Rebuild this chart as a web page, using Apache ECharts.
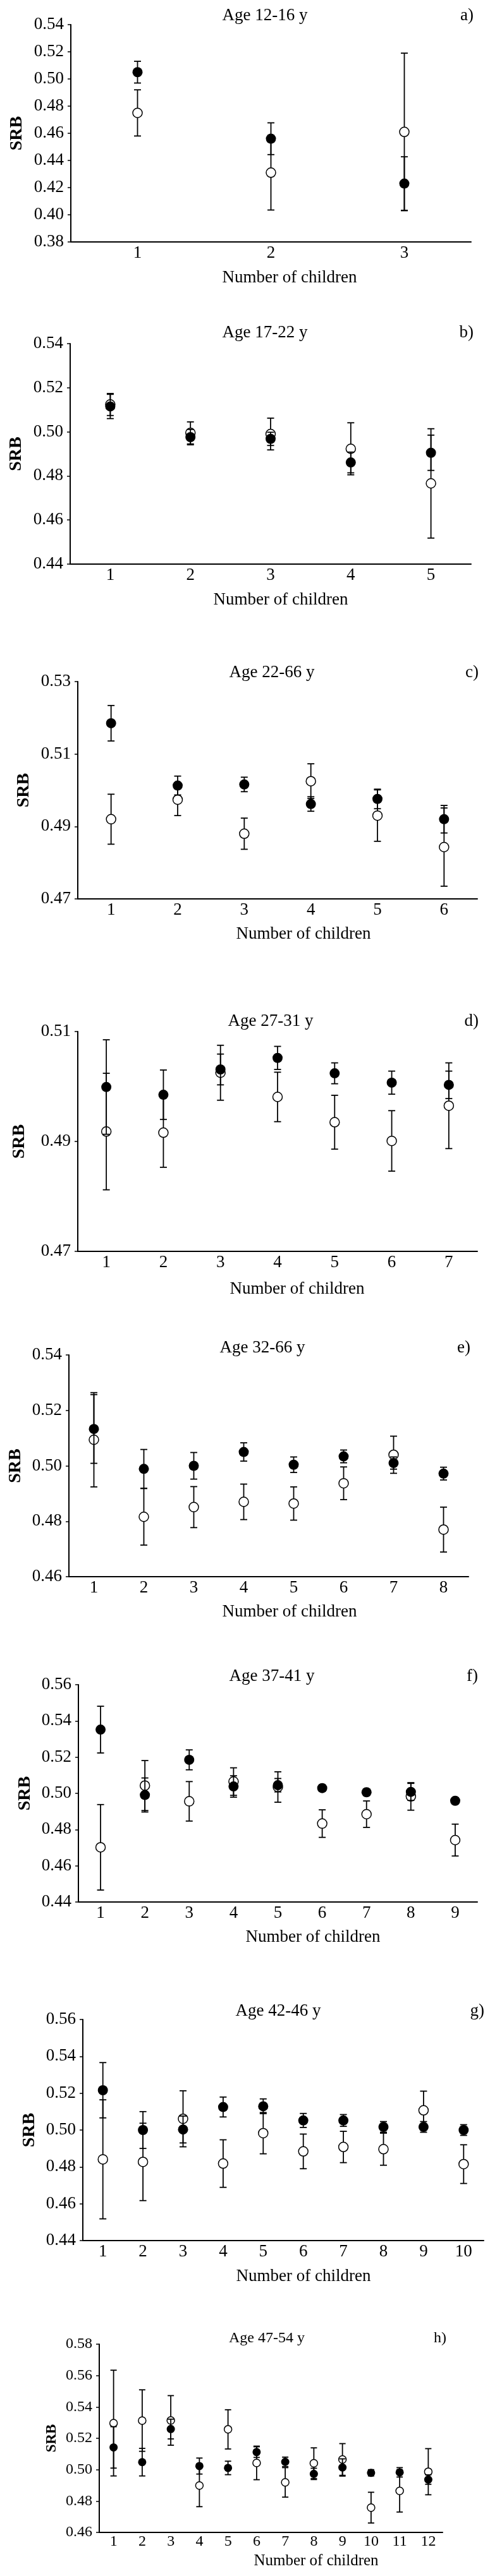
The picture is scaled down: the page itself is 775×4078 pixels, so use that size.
<!DOCTYPE html>
<html>
<head>
<meta charset="utf-8">
<script src="https://cdn.jsdelivr.net/npm/echarts@6/dist/echarts.min.js"></script>
<style>
  html, body { margin: 0; padding: 0; background: #fff; }
  #chart { width: 775px; height: 4078px; }
</style>
</head>
<body>
<div id="chart"></div>
<script>
const ages = ['Age 12-16 y', 'Age 17-22 y', 'Age 22-66 y', 'Age 27-31 y', 'Age 32-66 y', 'Age 37-41 y', 'Age 42-46 y', 'Age 47-54 y']
const letters = ['a)', 'b)', 'c)', 'd)', 'e)', 'f)', 'g)', 'h)']

// a) 12-16 y
const childrenA = ['1', '2', '3']
const ticksA = [0.38, 0.40, 0.42, 0.44, 0.46, 0.48, 0.50, 0.52, 0.54]
const filledA = [0.505, 0.456, 0.423]
const filledErrA = [0.008, 0.0117, 0.0197]
const openA = [0.475, 0.431, 0.461]
const openErrA = [0.017, 0.0275, 0.058]

// b) 17-22 y
const childrenB = ['1', '2', '3', '4', '5']
const ticksB = [0.44, 0.46, 0.48, 0.50, 0.52, 0.54]
const filledB = [0.5115, 0.4976, 0.4968, 0.4861, 0.4905]
const filledErrB = [0.0055, 0.0035, 0.003, 0.0047, 0.008]
const openB = [0.5124, 0.4995, 0.499, 0.4923, 0.4766]
const openErrB = [0.005, 0.005, 0.0072, 0.0118, 0.0248]

// c) 22-66 y
const childrenC = ['1', '2', '3', '4', '5', '6']
const ticksC = [0.47, 0.49, 0.51, 0.53]
const filledC = [0.5185, 0.5013, 0.5016, 0.4962, 0.4976, 0.492]
const filledErrC = [0.0049, 0.0026, 0.002, 0.002, 0.0027, 0.0038]
const openC = [0.492, 0.4974, 0.488, 0.5025, 0.493, 0.4843]
const openErrC = [0.0069, 0.0044, 0.0043, 0.0048, 0.0071, 0.0108]

// d) 27-31 y
const childrenD = ['1', '2', '3', '4', '5', '6', '7']
const ticksD = [0.47, 0.49, 0.51]
const filledD = [0.4999, 0.4985, 0.5031, 0.5052, 0.5024, 0.5007, 0.5003]
const filledErrD = [0.0086, 0.0045, 0.0028, 0.0021, 0.0019, 0.0021, 0.0025]
const openD = [0.4918, 0.4916, 0.5025, 0.4981, 0.4935, 0.4901, 0.4965]
const openErrD = [0.0106, 0.0063, 0.005, 0.0045, 0.0049, 0.0055, 0.0078]

// e) 32-66 y
const childrenE = ['1', '2', '3', '4', '5', '6', '7', '8']
const ticksE = [0.46, 0.48, 0.50, 0.52, 0.54]
const filledE = [0.5133, 0.4989, 0.5, 0.505, 0.5004, 0.5034, 0.501, 0.4972]
const filledErrE = [0.0124, 0.007, 0.0048, 0.0033, 0.0028, 0.0023, 0.0022, 0.0023]
const openE = [0.5094, 0.4816, 0.4851, 0.487, 0.4864, 0.4937, 0.504, 0.477]
const openErrE = [0.017, 0.0102, 0.0074, 0.0064, 0.006, 0.0059, 0.0067, 0.0081]

// f) 37-41 y
const childrenF = ['1', '2', '3', '4', '5', '6', '7', '8', '9']
const ticksF = [0.44, 0.46, 0.48, 0.50, 0.52, 0.54, 0.56]
const filledF = [0.5352, 0.4991, 0.5185, 0.5038, 0.5045, 0.5029, 0.5006, 0.5008, 0.4959]
const filledErrF = [0.0129, 0.0094, 0.0055, 0.0059, 0.0037, 0.0018, 0.0018, 0.0047, 0.0015]
const openF = [0.4702, 0.5043, 0.4956, 0.5065, 0.5035, 0.4833, 0.4885, 0.4983, 0.4742]
const openErrF = [0.0236, 0.0138, 0.0109, 0.0076, 0.0084, 0.0076, 0.0073, 0.0076, 0.0088]

// g) 42-46 y
const childrenG = ['1', '2', '3', '4', '5', '6', '7', '8', '9', '10']
const ticksG = [0.44, 0.46, 0.48, 0.50, 0.52, 0.54, 0.56]
const filledG = [0.5216, 0.5, 0.5003, 0.5125, 0.5129, 0.5052, 0.5052, 0.5017, 0.5017, 0.5]
const filledErrG = [0.015, 0.01, 0.0073, 0.0054, 0.004, 0.0038, 0.0032, 0.0029, 0.0029, 0.0029]
const openG = [0.4841, 0.4827, 0.5061, 0.4818, 0.4983, 0.4884, 0.4908, 0.4896, 0.5107, 0.4815]
const openErrG = [0.0323, 0.021, 0.0152, 0.0129, 0.0112, 0.0094, 0.0085, 0.0087, 0.0104, 0.0105]

// h) 47-54 y
const childrenH = ['1', '2', '3', '4', '5', '6', '7', '8', '9', '10', '11', '12']
const ticksH = [0.46, 0.48, 0.50, 0.52, 0.54, 0.56, 0.58]
const filledH = [0.5142, 0.5048, 0.5259, 0.5023, 0.5011, 0.5112, 0.505, 0.4973, 0.5014, 0.498, 0.4983, 0.4937]
const filledErrH = [0.0132, 0.0088, 0.0063, 0.0051, 0.0043, 0.0034, 0.003, 0.0036, 0.0055, 0.002, 0.003, 0.003]
const openH = [0.5297, 0.5313, 0.5314, 0.4899, 0.5257, 0.5043, 0.4919, 0.5041, 0.5065, 0.4758, 0.4865, 0.4987]
const openErrH = [0.0337, 0.0196, 0.0158, 0.0135, 0.0125, 0.0107, 0.0094, 0.0098, 0.0101, 0.0098, 0.0135, 0.0147]

const panels = [
  {cats: childrenA, ticks: ticksA, filled: filledA, filledErr: filledErrA, open: openA, openErr: openErrA},
  {cats: childrenB, ticks: ticksB, filled: filledB, filledErr: filledErrB, open: openB, openErr: openErrB},
  {cats: childrenC, ticks: ticksC, filled: filledC, filledErr: filledErrC, open: openC, openErr: openErrC},
  {cats: childrenD, ticks: ticksD, filled: filledD, filledErr: filledErrD, open: openD, openErr: openErrD},
  {cats: childrenE, ticks: ticksE, filled: filledE, filledErr: filledErrE, open: openE, openErr: openErrE},
  {cats: childrenF, ticks: ticksF, filled: filledF, filledErr: filledErrF, open: openF, openErr: openErrF},
  {cats: childrenG, ticks: ticksG, filled: filledG, filledErr: filledErrG, open: openG, openErr: openErrG},
  {cats: childrenH, ticks: ticksH, filled: filledH, filledErr: filledErrH, open: openH, openErr: openErrH}
]

// where each panel sits on the page
const layout = [
  {left: 112, top: 39, width: 633, height: 344, titleX: 419, titleY: 25, letterX: 749, nameX: 458, nameY: 440, srbX: 27},
  {left: 111, top: 544, width: 634, height: 349, titleX: 419, titleY: 527, letterX: 749, nameX: 444, nameY: 950, srbX: 26},
  {left: 123, top: 1079, width: 632, height: 344, titleX: 430, titleY: 1065, letterX: 757, nameX: 480, nameY: 1479, srbX: 38},
  {left: 123, top: 1633, width: 632, height: 348, titleX: 428, titleY: 1617, letterX: 757, nameX: 470, nameY: 2041, srbX: 31},
  {left: 109, top: 2145, width: 632, height: 351, titleX: 415, titleY: 2134, letterX: 744, nameX: 458, nameY: 2552, srbX: 25},
  {left: 124, top: 2667, width: 631, height: 344, titleX: 430, titleY: 2654, letterX: 756, nameX: 495, nameY: 3067, srbX: 40},
  {left: 131, top: 3197, width: 634, height: 350, titleX: 440, titleY: 3184, letterX: 766, nameX: 480, nameY: 3604, srbX: 47},
  {left: 157, top: 3711, width: 543, height: 298, titleX: 422, titleY: 3702, letterX: 706, nameX: 500, nameY: 4054, srbX: 86, small: true}
]

const font = '"Liberation Serif", "Times New Roman", serif'

const errorBars = (capW) => (params, api) => {
  const x = api.value(0)
  const m = api.value(1)
  const e = api.value(2)
  const top = api.coord([x, m + e])
  const bot = api.coord([x, m - e])
  const style = {stroke: '#000', lineWidth: 1.8}
  return {
    type: 'group',
    children: [
      {type: 'line', shape: {x1: top[0], y1: top[1], x2: bot[0], y2: bot[1]}, style},
      {type: 'line', shape: {x1: top[0] - capW, y1: top[1], x2: top[0] + capW, y2: top[1]}, style},
      {type: 'line', shape: {x1: bot[0] - capW, y1: bot[1], x2: bot[0] + capW, y2: bot[1]}, style}
    ]
  }
}

const grid = [], xAxis = [], yAxis = [], series = [], title = []

panels.forEach((p, i) => {
  const l = layout[i]
  const tickSize = l.small ? 24 : 27
  const titleSize = l.small ? 24 : 27
  const nameSize = l.small ? 25 : 27
  const srbSize = l.small ? 23 : 28
  const symSize = l.small ? 13 : 16
  const capW = l.small ? 5 : 5.5
  const axisY = l.top + l.height
  const shift = l.nameX - (l.left + l.width / 2)

  grid.push({left: l.left, top: l.top, width: l.width, height: l.height})

  xAxis.push({
    gridIndex: i,
    type: 'category',
    data: p.cats,
    boundaryGap: true,
    axisLine: {lineStyle: {color: '#000', width: 2}},
    axisTick: {show: false},
    axisLabel: {color: '#000', fontFamily: font, fontSize: tickSize, margin: l.small ? 3 : 4, interval: 0},
    name: 'Number of children',
    nameLocation: 'middle',
    nameGap: l.nameY - nameSize / 2 - axisY,
    nameTextStyle: {color: '#000', fontFamily: font, fontSize: nameSize, padding: [0, 0, 0, 2 * shift]}
  })

  yAxis.push({
    gridIndex: i,
    type: 'value',
    min: p.ticks[0],
    max: p.ticks[p.ticks.length - 1],
    axisLine: {show: true, lineStyle: {color: '#000', width: 2}},
    axisTick: {show: true, length: 5, customValues: p.ticks, lineStyle: {color: '#000', width: 1.5}},
    axisLabel: {
      customValues: p.ticks,
      formatter: (v) => v.toFixed(2),
      color: '#000', fontFamily: font, fontSize: tickSize, margin: 11
    },
    splitLine: {show: false},
    name: 'SRB',
    nameLocation: 'middle',
    nameGap: l.left - l.srbX - srbSize / 2,
    nameTextStyle: {color: '#000', fontFamily: font, fontSize: srbSize, fontWeight: 'bold'}
  })

  title.push({
    text: ages[i], left: l.titleX, top: l.titleY - titleSize / 2, textAlign: 'center', padding: 0,
    textStyle: {color: '#000', fontFamily: font, fontSize: titleSize, fontWeight: 'normal'}
  })
  title.push({
    text: letters[i], left: l.letterX, top: l.titleY - titleSize / 2, textAlign: 'right', padding: 0,
    textStyle: {color: '#000', fontFamily: font, fontSize: titleSize, fontWeight: 'normal'}
  })

  series.push({
    type: 'custom', xAxisIndex: i, yAxisIndex: i, z: 2,
    renderItem: errorBars(capW),
    encode: {x: 0, y: 1},
    data: p.open.map((m, k) => [k, m, p.openErr[k]])
  })
  series.push({
    type: 'scatter', xAxisIndex: i, yAxisIndex: i, z: 3,
    symbol: 'circle', symbolSize: symSize - 1,
    itemStyle: {color: '#fff', borderColor: '#000', borderWidth: 1.5, opacity: 1},
    data: p.open
  })
  series.push({
    type: 'custom', xAxisIndex: i, yAxisIndex: i, z: 4,
    renderItem: errorBars(capW),
    encode: {x: 0, y: 1},
    data: p.filled.map((m, k) => [k, m, p.filledErr[k]])
  })
  series.push({
    type: 'scatter', xAxisIndex: i, yAxisIndex: i, z: 5,
    symbol: 'circle', symbolSize: symSize,
    itemStyle: {color: '#000', opacity: 1},
    data: p.filled
  })
})

const myChart = echarts.init(document.getElementById('chart'))
myChart.setOption({
  animation: false,
  backgroundColor: '#fff',
  title,
  grid,
  xAxis,
  yAxis,
  series
})
</script>
</body>
</html>
